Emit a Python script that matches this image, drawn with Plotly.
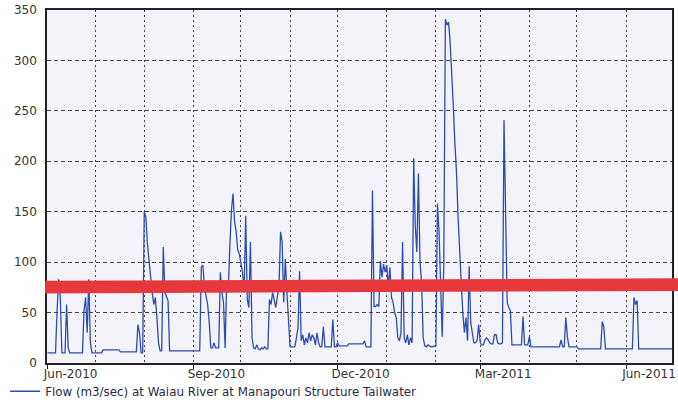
import pandas as pd
import plotly.graph_objects as go

# Daily flow (m3/sec), one list per month
jun_2010 = [10,10,10,10,10,10, 52,83,66,10,10,10, 58,15,10,10,10,10, 10,10,10,10,10,52, 65,30,83,20,10,10]
jul_2010 = [10,10,10,10,10, 13,13,13,13,13,13,13,13,13,13,13, 11,11,11,11,11,11,11,11,11,11,11, 38,30,10,10]
aug_2010 = [150,145,118,100,85,70,58,65,45,20,12,12,115,70,66,62,12, 12,12,12,12,12,12,12,12,12,12,12,12,12,12]
sep_2010 = [12,12,12,12,12, 95,97,75,65,58,40,15,15,20,15,15,15,90,70,60,15,80,70,116,151,168,140,130,112,108]
oct_2010 = [100,90,70,146,63,55,120,25,15,14, 18,14,13,15,14,16,14,14,63,58, 70,62,55,66,75,130,120,60,103,70, 40]
nov_2010 = [16,16,16,16,25,35,91,22,28,18, 25,20,30,22,28,25,18,30,20,16, 16,36,16,16,16,16,16,43,16,16]
dec_2010 = [20, 17,17,17,17,17,17, 19,19,19,19,19,19,19,19,19,19, 22, 16,16,16,16, 171,56,56,58,56,101,85,98,90]
jan_2011 = [97,75,95,65,60,50,45,25,22,30, 120,25,20,28,18,25,20,203,136,110, 188,100,80,25,17,16,18,17,16,16, 17]
feb_2011 = [17,158,130,65,26,98,341,335,338,318, 290,255,218,190,145,103,80,50,30,45, 22,96,40,30,20,20,22,38]
mar_2011 = [20,18,18,23,25,23,20,19,19,28, 28,20,19,19,20,241,150,60,55,52, 18,18,18,18,18,18,18,46,18,18, 18]
apr_2011 = [26] + [16]*19 + [23,16,16,45,26] + [16]*5
may_2011 = [16] + [14]*15 + [41,36] + [14]*13
jun_2011 = [14]*5 + [65,58,62] + [14]*22

flow = (jun_2010 + jul_2010 + aug_2010 + sep_2010 + oct_2010 + nov_2010 + dec_2010
        + jan_2011 + feb_2011 + mar_2011 + apr_2011 + may_2011 + jun_2011)
dates = pd.date_range("2010-06-01", "2011-06-30", freq="D")
assert len(flow) == len(dates)

series_name = "Flow (m3/sec) at Waiau River at Manapouri Structure Tailwater"
y_ticks = [0, 50, 100, 150, 200, 250, 300, 350]
band_left = (69, 81.5)    # threshold band, value bounds at left edge
band_right = (71.5, 84)   # value bounds at right edge

FONT = "DejaVu Sans"

fig = go.Figure()
fig.add_trace(go.Scatter(
    x=dates, y=flow, mode="lines", name=series_name,
    line=dict(color="#2d4cb2", width=1.3),
))

fig.add_shape(
    type="path", xref="paper", yref="y", layer="above",
    path=(f"M -0.003,{band_left[0]} L 1.01,{band_right[0]} "
          f"L 1.01,{band_right[1]} L -0.003,{band_left[1]} Z"),
    fillcolor="#e6393d", line=dict(width=0),
)

fig.update_layout(
    width=678, height=400,
    margin=dict(l=47, r=6, t=10, b=37, autoexpand=False),
    paper_bgcolor="#ffffff",
    plot_bgcolor="#f5f3fa",
    showlegend=True,
    legend=dict(
        orientation="h", x=-0.067, xanchor="left", y=-0.08, yanchor="middle",
        font=dict(family=FONT, size=11.85, color="#2a2a44"),
        bgcolor="rgba(0,0,0,0)", itemwidth=30,
    ),
    xaxis=dict(
        type="date",
        range=["2010-05-31 15:00", "2011-06-30"],
        tick0="2010-06-01", dtick="M3", tickformat="%b-%Y",
        ticks="outside", ticklen=4, tickcolor="#222",
        ticklabelshift=23, ticklabelstandoff=-5,
        tickfont=dict(family=FONT, size=12, color="#333"),
        showline=True, linecolor="#222", linewidth=1.5, mirror=True,
        showgrid=True, gridcolor="#444", gridwidth=1, griddash="2px,3px",
        minor=dict(tick0="2010-06-01", dtick="M1", showgrid=True,
                   gridcolor="#444", gridwidth=1, griddash="2px,3px", ticks=""),
        zeroline=False,
    ),
    yaxis=dict(
        range=[0, 350], tickvals=y_ticks,
        ticks="", ticklabelstandoff=6,
        tickfont=dict(family=FONT, size=12, color="#333"),
        showline=True, linecolor="#222", linewidth=1.5, mirror=True,
        showgrid=True, gridcolor="#444", gridwidth=1, griddash="4px,3px",
        zeroline=False,
    ),
)

fig.write_html("out.html")
